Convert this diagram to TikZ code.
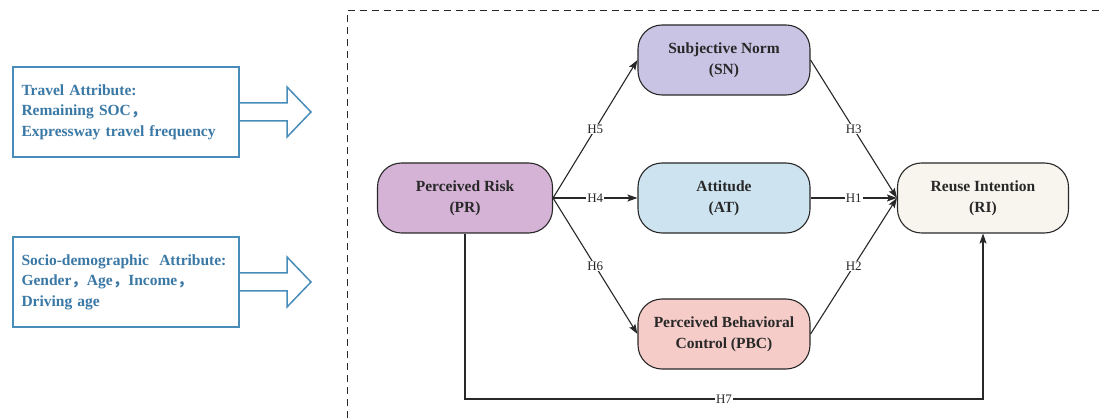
\documentclass[tikz,border=0pt]{standalone}
\usepackage{fontspec}
\setmainfont{Liberation Serif}
\newfontfamily\cjk{Noto Sans CJK SC}
\usetikzlibrary{arrows.meta}
\definecolor{frameblue}{RGB}{72,140,186}
\definecolor{textblue}{RGB}{58,120,166}
\definecolor{prfill}{RGB}{213,179,215}
\definecolor{snfill}{RGB}{201,196,228}
\definecolor{atfill}{RGB}{205,227,240}
\definecolor{pbcfill}{RGB}{245,204,200}
\definecolor{rifill}{RGB}{247,245,238}
\definecolor{ink}{RGB}{40,40,40}
\newcommand{\fwc}{{\cjk ，}}
\begin{document}
\begin{tikzpicture}[x=1pt,y=-1pt,
  construct/.style={draw=ink, line width=1.1pt, rounded corners=24pt,
    minimum width=175pt, minimum height=70pt, inner sep=0pt, align=center,
    text=ink, font=\fontsize{15.5}{21}\selectfont\bfseries},
  attrbox/.style={draw=frameblue, line width=1.5pt, minimum width=226pt,
    minimum height=90pt, inner sep=0pt, text width=209pt, align=left,
    text=textblue, font=\fontsize{15.5}{20.5}\selectfont\bfseries},
  blockarrow/.style={draw=frameblue, line width=1.5pt, fill=white},
  arr/.style={draw=ink, line width=1.1pt, -{Stealth[length=10pt,width=7pt,inset=2pt]}},
  hlab/.style={fill=white, inner sep=1pt, text=ink, font=\fontsize{13}{13}\selectfont}]
\useasboundingbox (0,0) rectangle (1099,419);
\fill[white] (0,0) rectangle (1099,419);
% dashed frame
\draw[ink, line width=1pt, dash pattern=on 7pt off 5pt] (1099,11) -- (347,11) -- (347,419);
% attribute boxes
\node[attrbox] (ta) at (126,112) {Travel Attribute:\\Remaining SOC\fwc\\Expressway travel frequency};
\node[attrbox] (sd) at (126,282) {Socio-demographic\ \ Attribute:\\Gender\fwc Age\fwc Income\fwc\\Driving age};
% block arrows
\draw[blockarrow] (240,103) -- (287,103) -- (287,87) -- (311,112) -- (287,137) -- (287,121) -- (240,121);
\draw[blockarrow] (240,273) -- (287,273) -- (287,257) -- (311,282) -- (287,307) -- (287,291) -- (240,291);
% constructs
\node[construct, fill=prfill] (PR) at (465,198) {Perceived Risk\\(PR)};
\node[construct, fill=snfill, minimum width=172pt] (SN) at (724,60) {Subjective Norm\\(SN)};
\node[construct, fill=atfill, minimum width=172pt] (AT) at (724,198) {Attitude\\(AT)};
\node[construct, fill=pbcfill, minimum width=172pt] (PBC) at (724,334) {Perceived Behavioral\\Control (PBC)};
\node[construct, fill=rifill, minimum width=171pt] (RI) at (983,198) {Reuse Intention\\(RI)};
% connectors
\draw[arr] (PR.east) -- node[hlab]{H5} (SN.west);
\draw[arr] (PR.east) -- node[hlab]{H4} (AT.west);
\draw[arr] (PR.east) -- node[hlab]{H6} (PBC.west);
\draw[arr] (SN.east) -- node[hlab]{H3} (RI.west);
\draw[arr] (AT.east) -- node[hlab]{H1} (RI.west);
\draw[arr] (PBC.east) -- node[hlab]{H2} (RI.west);
\coordinate (c1) at (PR.south |- 0,399);
\coordinate (c2) at (RI.south |- 0,399);
\draw[arr] (PR.south) -- (c1) -- node[hlab]{H7} (c2) -- (RI.south);
\end{tikzpicture}
\end{document}
